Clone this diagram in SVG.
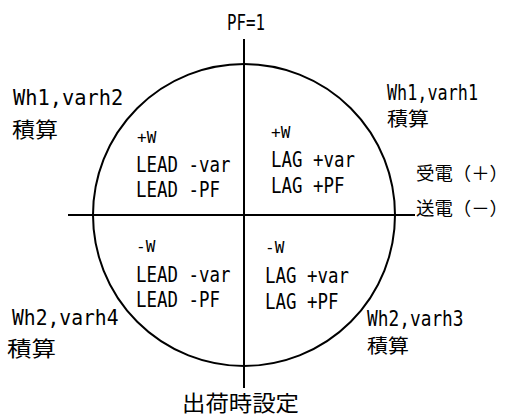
<svg xmlns="http://www.w3.org/2000/svg" width="511" height="417" viewBox="0 0 511 417">
<style>
.m{font-family:"DejaVu Sans Mono","Liberation Mono",monospace;fill:#000;font-size:20.5px}
.sm{font-size:16px}
.c{font-family:"Noto Sans CJK JP","Noto Sans CJK SC",sans-serif;fill:#000;font-size:20px}
.ln{stroke:#000;stroke-width:2;fill:none}
</style>
<rect width="511" height="417" fill="#fff"/>
<g id="axes">
<circle class="ln" cx="244" cy="215" r="151"/>
<line class="ln" x1="244" y1="39" x2="244" y2="388"/>
<line class="ln" x1="68" y1="215" x2="415" y2="215"/>
</g>
<g id="top-label"><text class="m" transform="translate(227,30) scale(.77,1)">PF=1</text></g>
<g id="bottom-label"><text class="c" x="182" y="411" style="font-size:22px" textLength="117" lengthAdjust="spacingAndGlyphs">出荷時設定</text></g>
<g id="q1">
<text class="m sm" transform="translate(271,138)">+W</text>
<text class="m" transform="translate(271,167) scale(.85,1)">LAG +var</text>
<text class="m" transform="translate(271,193) scale(.85,1)">LAG +PF</text>
</g>
<g id="q2">
<text class="m sm" transform="translate(137,143)">+W</text>
<text class="m" transform="translate(136,172) scale(.85,1)">LEAD -var</text>
<text class="m" transform="translate(136,197) scale(.85,1)">LEAD -PF</text>
</g>
<g id="q3">
<text class="m sm" transform="translate(136,252)">-W</text>
<text class="m" transform="translate(136,282) scale(.85,1)">LEAD -var</text>
<text class="m" transform="translate(136,307) scale(.85,1)">LEAD -PF</text>
</g>
<g id="q4">
<text class="m sm" transform="translate(265,253)">-W</text>
<text class="m" transform="translate(265,283) scale(.85,1)">LAG +var</text>
<text class="m" transform="translate(265,309) scale(.85,1)">LAG +PF</text>
</g>
<g id="label-tl">
<text class="m" transform="translate(13,105) scale(.97,1)" style="font-size:21px">Wh1,varh2</text>
<text class="c" x="12" y="137" style="font-size:21px" textLength="46" lengthAdjust="spacingAndGlyphs">積算</text>
</g>
<g id="label-tr">
<text class="m" transform="translate(387,100) scale(.82,1)">Wh1,varh1</text>
<text class="c" x="387" y="126" style="font-size:19px" textLength="42" lengthAdjust="spacingAndGlyphs">積算</text>
</g>
<g id="label-recv"><text class="c" x="416" y="180" style="font-size:18px" textLength="92" lengthAdjust="spacingAndGlyphs">受電（＋）</text></g>
<g id="label-send"><text class="c" x="416" y="215" style="font-size:18px" textLength="92" lengthAdjust="spacingAndGlyphs">送電（－）</text></g>
<g id="label-br">
<text class="m" transform="translate(367,326) scale(.87,1)">Wh2,varh3</text>
<text class="c" x="367" y="353" style="font-size:19px" textLength="42" lengthAdjust="spacingAndGlyphs">積算</text>
</g>
<g id="label-bl">
<text class="m" transform="translate(12,325) scale(.96,1)">Wh2,varh4</text>
<text class="c" x="7" y="356" style="font-size:21px" textLength="49" lengthAdjust="spacingAndGlyphs">積算</text>
</g>
</svg>
